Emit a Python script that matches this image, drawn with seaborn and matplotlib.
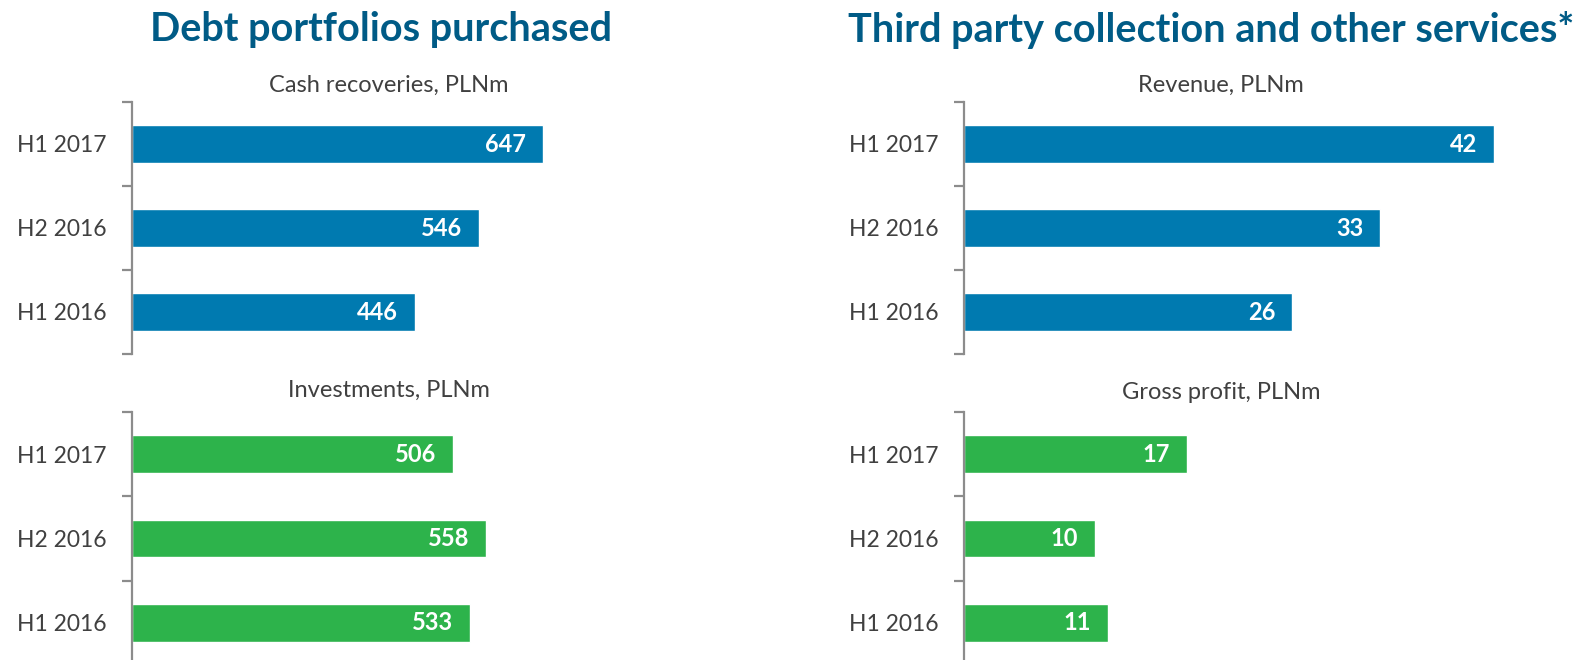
import matplotlib
matplotlib.use("Agg")
import matplotlib.pyplot as plt
import seaborn as sns
import pandas as pd

# ---- data ----
periods = ["H1 2017", "H2 2016", "H1 2016"]
cash_recoveries = [647, 546, 446]
investments = [506, 558, 533]
revenue = [42, 33, 26]
gross_profit = [17, 10, 11]

title_left = "Debt portfolios purchased"
title_right = "Third party collection and other services*"
sub_cash = "Cash recoveries, PLNm"
sub_inv = "Investments, PLNm"
sub_rev = "Revenue, PLNm"
sub_gp = "Gross profit, PLNm"

BLUE = "#007AB0"
GREEN = "#2DB34B"
TITLE_C = "#005B86"
TEXT_C = "#404040"
SPINE_C = "#8C8C8C"

sns.set_theme(style="white")
plt.rcParams["font.family"] = ["Lato", "DejaVu Sans"]

W, H = 1583, 660
fig = plt.figure(figsize=(W / 100, H / 100), dpi=100)


def px_axes(x0, y_top, w, h):
    return fig.add_axes([x0 / W, (H - y_top - h) / H, w / W, h / H])


def panel(ax, values, color, xmax):
    df = pd.DataFrame({"period": periods, "value": values})
    sns.barplot(data=df, y="period", x="value", order=periods, color=color,
                orient="h", width=0.45, ax=ax, saturation=1)
    ax.set_xlim(0, xmax)
    ax.set_ylim(len(periods) - 0.5, -0.5)
    for s in ["top", "right", "bottom"]:
        ax.spines[s].set_visible(False)
    ax.spines["left"].set_color(SPINE_C)
    ax.spines["left"].set_linewidth(1.6)
    ax.set_xticks([])
    ax.set_xlabel("")
    ax.set_ylabel("")
    ax.set_yticks([i - 0.5 for i in range(len(periods) + 1)])
    ax.set_yticklabels([])
    ax.tick_params(axis="y", which="major", length=7, width=1.6, color=SPINE_C, left=True)
    ax.set_yticks(range(len(periods)), minor=True)
    ax.set_yticklabels(periods, minor=True)
    ax.tick_params(axis="y", which="minor", length=0, pad=18.5, labelsize=16.5, labelcolor=TEXT_C)
    for bar, v in zip(ax.patches, values):
        ax.annotate(f"{v}", (bar.get_x() + bar.get_width(), bar.get_y() + bar.get_height() / 2),
                    xytext=(-17, 0), textcoords="offset pixels", ha="right", va="center",
                    color="white", fontsize=17, fontweight="bold")


ax1 = px_axes(132, 102, 508, 252)
panel(ax1, cash_recoveries, BLUE, 800)
ax2 = px_axes(132, 412, 508, 253)
panel(ax2, investments, GREEN, 800)
ax3 = px_axes(964, 102, 568, 252)
panel(ax3, revenue, BLUE, 568 / 12.62)
ax4 = px_axes(964, 412, 568, 253)
panel(ax4, gross_profit, GREEN, 568 / 13.1)


def ftext(x, y, s, **kw):
    fig.text(x / W, 1 - y / H, s, ha="center", va="center", **kw)


ftext(381, 29, title_left, fontsize=28.5, fontweight="bold", color=TITLE_C)
ftext(1211, 30, title_right, fontsize=28.5, fontweight="bold", color=TITLE_C)
ftext(389, 85, sub_cash, fontsize=17, color=TEXT_C)
ftext(389, 390, sub_inv, fontsize=17, color=TEXT_C)
ftext(1221, 85, sub_rev, fontsize=17, color=TEXT_C)
ftext(1221, 392, sub_gp, fontsize=17, color=TEXT_C)

fig.savefig("out.png", dpi=100)
